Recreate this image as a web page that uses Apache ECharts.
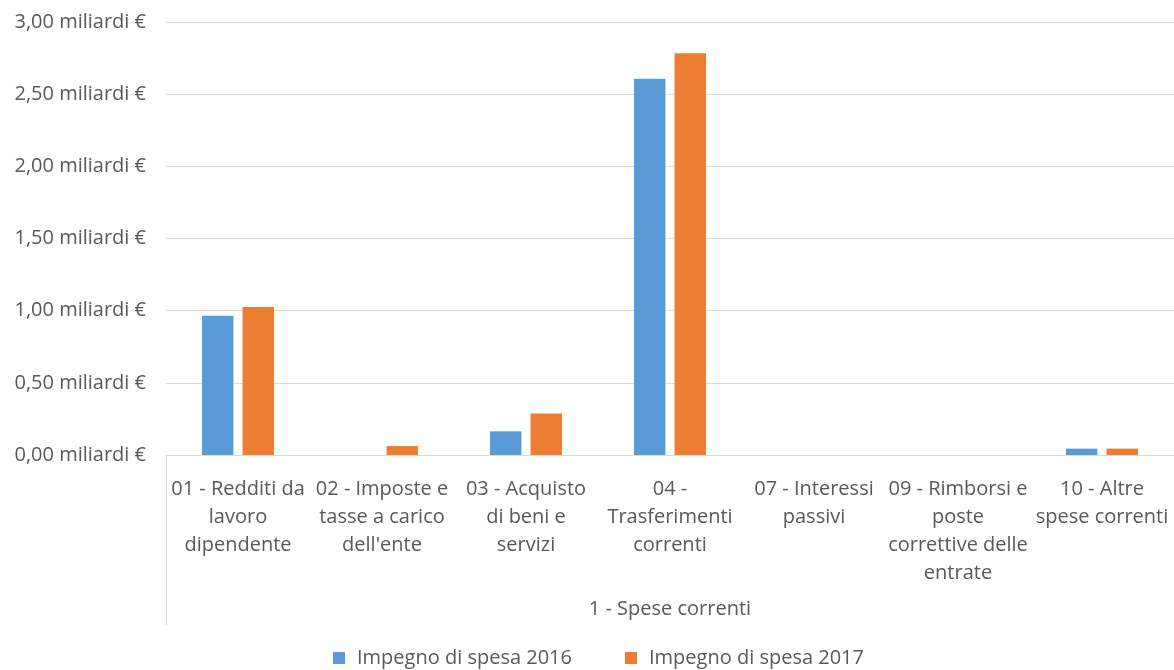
<!DOCTYPE html>
<html>
<head>
<meta charset="utf-8">
<script src="https://cdn.jsdelivr.net/npm/echarts@6/dist/echarts.min.js"></script>
<style>
  html, body { margin: 0; padding: 0; background: #fff; }
  #chart { width: 1174px; height: 670px; }
</style>
</head>
<body>
<div id="chart"></div>
<script>
// Spese correnti per macroaggregato (miliardi di euro)
const categories = [
  '01 - Redditi da\nlavoro\ndipendente',
  '02 - Imposte e\ntasse a carico\ndell\'ente',
  '03 - Acquisto\ndi beni e\nservizi',
  '04 -\nTrasferimenti\ncorrenti',
  '07 - Interessi\npassivi',
  '09 - Rimborsi e\nposte\ncorrettive delle\nentrate',
  '10 - Altre\nspese correnti'
];
const groupLabels = ['1 - Spese correnti'];
const seriesNames = ['Impegno di spesa 2016', 'Impegno di spesa 2017'];
const values2016 = [0.965, 0, 0.164, 2.607, 0, 0, 0.044];
const values2017 = [1.026, 0.062, 0.288, 2.783, 0, 0, 0.044];
const yTicks = { min: 0, max: 3, interval: 0.5 };

const FONT = 'Open Sans';
const FONT_SIZE = 20;
const TEXT = '#595959';

const chart = echarts.init(document.getElementById('chart'));
chart.setOption({
  animation: false,
  textStyle: { fontFamily: FONT },
  grid: { left: 166, right: -1, top: 22, bottom: 215, containLabel: false },
  legend: {
    top: 643,
    left: 328,
    padding: 5,
    itemWidth: 12,
    itemHeight: 12,
    itemGap: 53,
    icon: 'rect',
    textStyle: { fontFamily: FONT, fontSize: FONT_SIZE, color: TEXT, padding: [0, 0, 0, 7] },
    data: seriesNames
  },
  xAxis: [
    {
      type: 'category',
      data: categories,
      position: 'bottom',
      axisLine: { show: true, lineStyle: { color: '#d9d9d9', width: 1 } },
      axisTick: { show: false },
      axisLabel: {
        interval: 0,
        margin: 20,
        color: TEXT,
        fontFamily: FONT,
        fontSize: FONT_SIZE,
        lineHeight: 28,
        align: 'center'
      }
    },
    {
      type: 'category',
      data: groupLabels,
      position: 'bottom',
      axisLine: { show: false },
      axisTick: { show: true, length: 170, lineStyle: { color: '#d9d9d9', width: 1 } },
      axisLabel: {
        interval: 0,
        margin: 140,
        color: TEXT,
        fontFamily: FONT,
        fontSize: FONT_SIZE,
        lineHeight: 28
      }
    }
  ],
  yAxis: {
    type: 'value',
    min: yTicks.min,
    max: yTicks.max,
    interval: yTicks.interval,
    axisLine: { show: false },
    axisTick: { show: false },
    splitLine: { lineStyle: { color: '#d9d9d9', width: 1 } },
    axisLabel: {
      margin: 20,
      color: TEXT,
      fontFamily: FONT,
      fontSize: FONT_SIZE,
      formatter: v => v.toFixed(2).replace('.', ',') + ' miliardi €'
    }
  },
  series: [
    {
      name: seriesNames[0],
      type: 'bar',
      xAxisIndex: 0,
      data: values2016,
      barGap: '29%',
      barCategoryGap: '50%',
      itemStyle: { color: '#5b9bd5' }
    },
    {
      name: seriesNames[1],
      type: 'bar',
      xAxisIndex: 0,
      data: values2017,
      barGap: '29%',
      barCategoryGap: '50%',
      itemStyle: { color: '#ed7d31' }
    }
  ]
});
</script>
</body>
</html>
